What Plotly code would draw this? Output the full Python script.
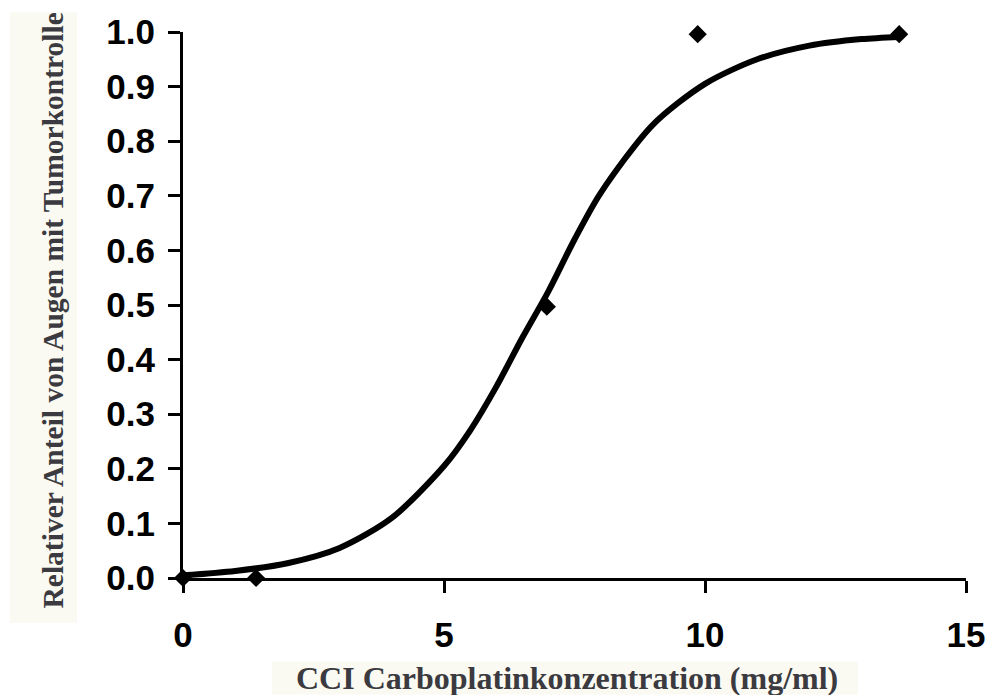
import plotly.graph_objects as go

# Measured data points
data_x = [0, 1.4, 6.97, 9.86, 13.72]
data_y = [0.0, 0.0, 0.497, 0.996, 0.996]

# Fitted curve
curve_x = [0, 1, 2, 3, 4, 5, 5.5, 6, 6.5, 7, 7.5, 8, 9, 10, 11, 12, 13, 13.72]
curve_y = [0.005, 0.013, 0.027, 0.055, 0.11, 0.205, 0.27, 0.35, 0.44, 0.525, 0.62, 0.705,
           0.83, 0.905, 0.95, 0.975, 0.987, 0.991]

x_ticks = [0, 5, 10, 15]
y_ticks = [0.0, 0.1, 0.2, 0.3, 0.4, 0.5, 0.6, 0.7, 0.8, 0.9, 1.0]
y_ticktext = ["%.1f" % v for v in y_ticks]

x_title = "CCI Carboplatinkonzentration (mg/ml)"
y_title = "Relativer Anteil von Augen mit Tumorkontrolle"

fig = go.Figure()
fig.add_trace(go.Scatter(x=curve_x, y=curve_y, mode="lines",
                         line=dict(color="black", width=6, shape="spline", smoothing=0.8),
                         cliponaxis=False, showlegend=False, hoverinfo="skip"))
fig.add_trace(go.Scatter(x=data_x, y=data_y, mode="markers",
                         marker=dict(symbol="diamond", size=14, color="black"),
                         cliponaxis=False, showlegend=False))

tickfont = dict(family="Liberation Sans, Arial, sans-serif", size=35, color="black", weight="bold")
fig.update_layout(
    width=991, height=695,
    margin=dict(l=183, r=25, t=32, b=117),
    paper_bgcolor="white", plot_bgcolor="white",
    xaxis=dict(range=[0, 15], tickvals=x_ticks, ticks="outside", ticklen=12, tickwidth=3,
               tickcolor="black", showline=True, linecolor="black", linewidth=3,
               showgrid=False, zeroline=False, tickfont=tickfont, ticklabelstandoff=12,
               automargin=False),
    yaxis=dict(range=[0, 1], tickvals=y_ticks, ticktext=y_ticktext, ticks="outside", ticklen=12,
               tickwidth=3, tickcolor="black", showline=True, linecolor="black", linewidth=3,
               showgrid=False, zeroline=False, tickfont=tickfont, ticklabelstandoff=6,
               automargin=False),
    shapes=[
        dict(type="rect", xref="paper", yref="paper", x0=-0.2209, x1=-0.1354, y0=-0.0818, y1=1.036,
             fillcolor="#fafaf2", line=dict(width=0), layer="below"),
        dict(type="rect", xref="paper", yref="paper", x0=0.1137, x1=0.862, y0=-0.2135, y1=-0.153,
             fillcolor="#fafaf2", line=dict(width=0), layer="below"),
    ],
    annotations=[
        dict(text="<b>%s</b>" % x_title, xref="paper", yref="paper", x=0.49, y=-0.184,
             xanchor="center", yanchor="middle", showarrow=False,
             font=dict(family="Liberation Serif, Times New Roman, serif", size=32, color="#3a3a40")),
        dict(text="<b>%s</b>" % y_title, xref="paper", yref="paper", x=-0.166, y=0.49,
             xanchor="center", yanchor="middle", showarrow=False, textangle=-90,
             font=dict(family="Liberation Serif, Times New Roman, serif", size=29.5, color="#3a3a40")),
    ],
)

fig.write_html("out.html", config={"displayModeBar": False},
               post_script="document.body.style.margin='0';document.body.style.overflow='hidden';")
